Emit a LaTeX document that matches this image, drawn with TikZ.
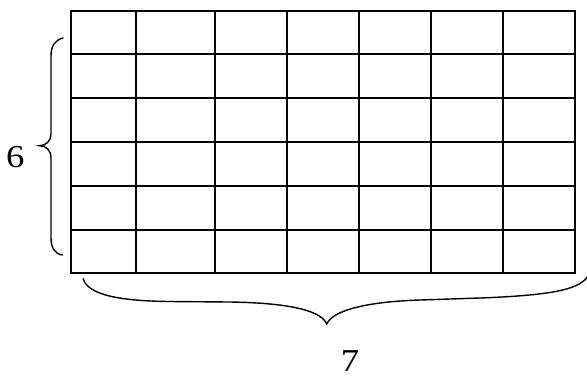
\documentclass[tikz,border=0pt]{standalone}
\usepackage{fontspec}
\setmainfont{Liberation Serif}
\begin{document}
\begin{tikzpicture}[x=1bp,y=-1bp,
  gridline/.style={line width=2bp,line cap=rect},
  bracepath/.style={line width=1.4bp,line cap=round},
  numlabel/.style={inner sep=0pt,anchor=base}]
\useasboundingbox (0,0) rectangle (587,378);
% grid columns and rows
\foreach \x in {70.7,135.7,215,287,359,431,503,575}
  \draw[gridline] (\x,11) -- (\x,273.3);
\foreach \y in {11,54.3,98,142,186,229.7,273.3}
  \draw[gridline] (70.7,\y) -- (575,\y);
% left brace
\coordinate (lt) at (63,38);
\coordinate (ltip) at (39.3,145.7);
\coordinate (lb) at (62.5,255);
\draw[bracepath] (lt) .. controls (55,40) and (51,46) .. (51,56)
  -- (51,134) .. controls (51,141) and (46,145.7) .. (ltip)
  .. controls (46,145.7) and (51,150) .. (51,158)
  -- (51,238) .. controls (51,248) and (55,254) .. (lb);
% bottom brace
\coordinate (bl) at (83.2,278.8);
\coordinate (btip) at (326.7,324);
\coordinate (br) at (588,276);
\draw[bracepath] (bl) .. controls (88,295) and (120,301) .. (170,301.5)
  -- (230,302) .. controls (295,303) and (322,312) .. (btip)
  .. controls (332,312) and (360,302) .. (420,300)
  -- (480,298) .. controls (560,295) and (580,288) .. (br);
% labels
\node[numlabel] (six) at (15.3,167) {\scalebox{1.15}[1]{\fontsize{32}{38}\selectfont 6}};
\node[numlabel] (seven) at (350,371.5) {\scalebox{1.15}[1]{\fontsize{32}{38}\selectfont 7}};
\end{tikzpicture}
\end{document}
